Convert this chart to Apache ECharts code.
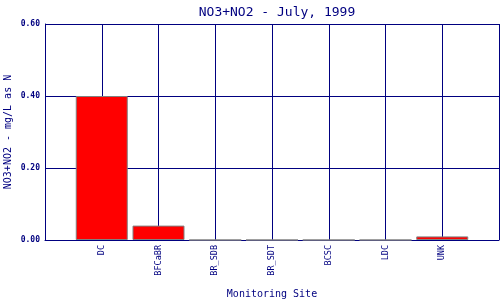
<!DOCTYPE html>
<html>
<head>
<meta charset="utf-8">
<script src="https://cdn.jsdelivr.net/npm/echarts@6/dist/echarts.min.js"></script>
<style>html,body{margin:0;padding:0;background:#fff}#c{width:500px;height:300px}</style>
</head>
<body>
<div id="c"></div>
<script>
var categories = ['', 'DC', 'BFCaBR', 'BR_SDB', 'BR_SDT', 'BCSC', 'LDC', 'UNK', ''];
var values = ['-', 0.40, 0.04, 0, 0, 0, 0, 0.01, '-'];
var yTicks = { min: 0, max: 0.6, interval: 0.2 };
var titleText = 'NO3+NO2 - July, 1999';
var yName = 'NO3+NO2 - mg/L as N';
var xName = 'Monitoring Site';

var navy = '#000080';
var font = 'DejaVu Sans Mono';
var chart = echarts.init(document.getElementById('c'), null, { renderer: 'canvas' });
chart.setOption({
  animation: false,
  backgroundColor: '#ffffff',
  title: {
    text: titleText, left: 272, top: 1, textAlign: 'center',
    textStyle: { fontFamily: font, fontSize: 13, fontWeight: 'normal', color: navy }
  },
  grid: { left: 45, right: 1, top: 24, bottom: 60, containLabel: false, outerBoundsMode: 'none' },
  xAxis: {
    type: 'category', data: categories, boundaryGap: false,
    name: xName, nameLocation: 'middle', nameGap: 49, nameMoveOverlap: false,
    nameTextStyle: { fontFamily: font, fontSize: 10, color: navy },
    axisLine: { lineStyle: { color: navy, width: 1 } },
    axisTick: { show: false },
    axisLabel: { rotate: 90, interval: 0, margin: 5, fontFamily: font, fontSize: 8.5, color: navy },
    splitLine: { show: true, interval: 0, lineStyle: { color: navy, width: 1 } }
  },
  yAxis: {
    type: 'value', min: yTicks.min, max: yTicks.max, interval: yTicks.interval,
    name: yName, nameLocation: 'middle', nameGap: 32, nameRotate: 90, nameMoveOverlap: false,
    nameTextStyle: { fontFamily: font, fontSize: 10, color: navy },
    axisLine: { show: true, lineStyle: { color: navy, width: 1 } },
    axisTick: { show: false },
    axisLabel: { margin: 5, fontFamily: font, fontSize: 8, fontWeight: 'bold', color: navy,
      formatter: function (v) { return v.toFixed(2); } },
    splitLine: { show: true, lineStyle: { color: navy, width: 1 } }
  },
  series: [{
    type: 'bar', data: values, barWidth: 52,
    itemStyle: { color: '#ff0000', borderColor: '#808080', borderWidth: 1 }
  }]
});
</script>
</body>
</html>
